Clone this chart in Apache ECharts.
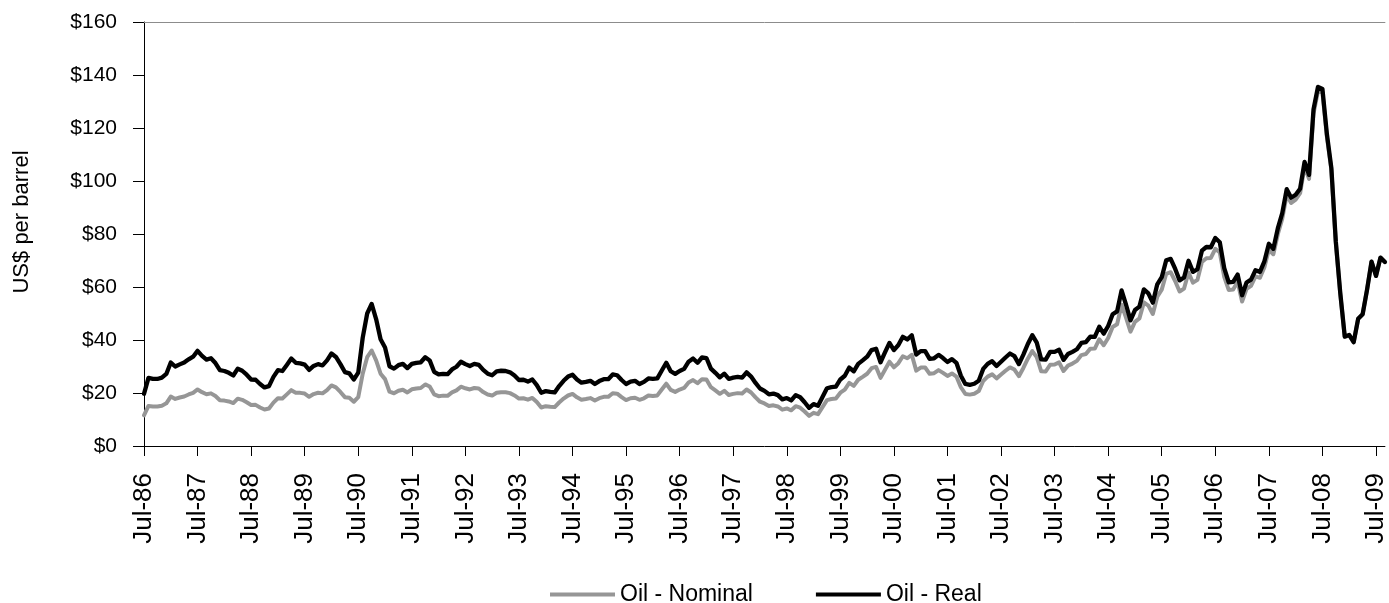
<!DOCTYPE html>
<html>
<head>
<meta charset="utf-8">
<title>Oil price, nominal and real</title>
<script src="https://cdn.jsdelivr.net/npm/echarts@6/dist/echarts.min.js"></script>
<style>
  html, body { margin: 0; padding: 0; background: #ffffff; }
  #chart { width: 1389px; height: 603px; }
</style>
</head>
<body>
<div id="chart"></div>
<script>
// Monthly oil price in US$ per barrel, July 1986 to September 2009.
const MONTH_NAMES = ['Jan', 'Feb', 'Mar', 'Apr', 'May', 'Jun', 'Jul', 'Aug', 'Sep', 'Oct', 'Nov', 'Dec'];
const FIRST_YEAR = 1986;
const FIRST_MONTH = 6;   // July
const MONTH_COUNT = 279; // Jul-86 .. Sep-09

const nominal = [
  11.58, 15.10, 14.87, 14.90, 15.22, 16.11,
  18.65, 17.75, 18.30, 18.68, 19.44, 20.07, 21.34, 20.31, 19.53, 19.86, 18.85, 17.28,
  17.13, 16.80, 16.20, 17.86, 17.42, 16.53, 15.50, 15.52, 14.54, 13.77, 14.14, 16.38,
  18.02, 17.94, 19.48, 21.07, 20.12, 20.05, 19.78, 18.58, 19.59, 20.10, 19.86, 21.10,
  22.86, 22.11, 20.39, 18.43, 18.20, 16.70, 18.45, 27.31, 33.51, 36.04, 32.33, 27.28,
  25.23, 20.48, 19.90, 20.83, 21.23, 20.19, 21.40, 21.69, 21.89, 23.23, 22.46, 19.50,
  18.79, 19.01, 18.92, 20.23, 20.98, 22.39, 21.78, 21.34, 21.88, 21.69, 20.34, 19.41,
  19.03, 20.09, 20.32, 20.25, 19.95, 19.09, 17.89, 18.01, 17.50, 18.15, 16.61, 14.52,
  15.03, 14.78, 14.68, 16.42, 17.89, 19.06, 19.66, 18.38, 17.45, 17.72, 18.07, 17.16,
  18.04, 18.57, 18.54, 19.90, 19.74, 18.45, 17.33, 18.02, 18.23, 17.43, 17.99, 19.03,
  18.85, 19.09, 21.33, 23.50, 21.17, 20.42, 21.30, 21.90, 23.97, 24.88, 23.71, 25.23,
  25.13, 22.18, 20.97, 19.70, 20.82, 19.26, 19.66, 19.95, 19.80, 21.33, 20.19, 18.33,
  16.72, 16.06, 15.12, 15.35, 14.91, 13.72, 14.17, 13.47, 15.03, 14.46, 13.00, 11.35,
  12.52, 12.01, 14.68, 17.31, 17.72, 17.92, 20.10, 21.28, 23.80, 22.69, 25.00, 26.10,
  27.26, 29.37, 29.84, 25.72, 28.79, 31.82, 29.70, 31.26, 33.88, 33.11, 34.42, 28.44,
  29.59, 29.61, 27.25, 27.49, 28.63, 27.60, 26.43, 27.37, 26.20, 22.17, 19.64, 19.39,
  19.72, 20.72, 24.53, 26.18, 27.04, 25.52, 26.97, 28.39, 29.66, 28.84, 26.35, 29.46,
  32.95, 35.83, 33.51, 28.17, 28.11, 30.66, 30.76, 31.57, 28.31, 30.34, 31.11, 32.13,
  34.31, 34.69, 36.74, 36.75, 40.28, 38.03, 40.78, 44.90, 45.94, 53.28, 48.47, 43.15,
  46.84, 48.15, 54.19, 52.98, 49.83, 56.35, 59.00, 64.99, 65.59, 62.26, 58.32, 59.41,
  65.49, 61.63, 62.69, 69.44, 70.84, 70.95, 74.41, 73.04, 63.80, 58.89, 59.08, 61.96,
  54.51, 59.28, 60.44, 63.98, 63.46, 67.49, 74.12, 72.36, 79.92, 85.80, 94.77, 91.69,
  92.97, 95.39, 105.45, 100.80, 125.40, 133.88, 133.37, 116.67, 104.11, 76.61, 57.31, 41.12,
  41.71, 39.09, 47.94, 49.65, 59.03, 69.64, 64.15, 71.05, 69.41
];

const real = [
  19.7, 25.7, 25.3, 25.3, 25.8, 27.2,
  31.5, 30.0, 30.8, 31.5, 32.7, 33.7, 35.9, 34.0, 32.6, 33.1, 31.3, 28.6,
  28.3, 27.6, 26.6, 29.2, 28.4, 26.9, 25.1, 25.0, 23.4, 22.1, 22.6, 26.1,
  28.6, 28.3, 30.6, 33.0, 31.4, 31.2, 30.7, 28.7, 30.2, 30.9, 30.4, 32.3,
  34.9, 33.6, 30.9, 27.9, 27.4, 25.1, 27.7, 40.9, 50.0, 53.6, 47.9, 40.3,
  37.2, 30.1, 29.2, 30.5, 31.0, 29.4, 31.0, 31.4, 31.6, 33.5, 32.3, 28.0,
  27.0, 27.2, 27.1, 28.9, 29.9, 31.8, 30.9, 30.2, 31.0, 30.6, 28.7, 27.3,
  26.7, 28.2, 28.4, 28.3, 27.8, 26.6, 24.9, 25.0, 24.3, 25.1, 23.0, 20.1,
  20.7, 20.4, 20.2, 22.6, 24.6, 26.2, 26.9, 25.1, 23.9, 24.2, 24.6, 23.4,
  24.5, 25.2, 25.2, 27.0, 26.7, 24.9, 23.4, 24.3, 24.6, 23.4, 24.2, 25.5,
  25.3, 25.5, 28.5, 31.4, 28.2, 27.2, 28.3, 29.1, 31.8, 33.0, 31.4, 33.4,
  33.2, 29.2, 27.6, 25.9, 27.3, 25.3, 25.8, 26.1, 25.8, 27.8, 26.2, 23.8,
  21.7, 20.8, 19.5, 19.8, 19.2, 17.6, 18.1, 17.2, 19.2, 18.4, 16.5, 14.4,
  15.8, 15.2, 18.5, 21.8, 22.2, 22.4, 25.1, 26.5, 29.6, 28.2, 31.0, 32.3,
  33.7, 36.2, 36.7, 31.6, 35.3, 38.9, 36.2, 38.1, 41.2, 40.2, 41.8, 34.5,
  35.8, 35.8, 32.9, 33.1, 34.4, 33.2, 31.7, 32.8, 31.4, 26.5, 23.4, 23.1,
  23.5, 24.6, 29.1, 31.0, 32.0, 30.2, 31.8, 33.4, 34.9, 33.9, 30.9, 34.5,
  38.5, 41.8, 39.0, 32.7, 32.6, 35.5, 35.5, 36.3, 32.5, 34.7, 35.5, 36.5,
  38.9, 39.2, 41.3, 41.2, 45.0, 42.4, 45.3, 49.7, 50.8, 58.7, 53.3, 47.4,
  51.3, 52.6, 59.1, 57.6, 54.1, 61.0, 63.7, 70.1, 70.6, 66.9, 62.5, 63.6,
  69.9, 65.7, 66.7, 73.7, 75.1, 75.0, 78.5, 76.9, 67.1, 61.8, 61.9, 64.7,
  56.9, 61.7, 62.8, 66.3, 65.7, 69.7, 76.3, 74.4, 82.1, 87.9, 96.9, 93.7,
  94.8, 97.1, 107.2, 102.3, 127.0, 135.5, 134.7, 117.7, 104.9, 77.1, 57.7, 41.3,
  41.9, 39.2, 48.0, 49.7, 59.0, 69.6, 64.2, 71.1, 69.4
];

// Month labels such as "Jul-86"; one axis label is shown every 12 months (each July).
const categories = [];
for (let k = 0; k < MONTH_COUNT; k++) {
  const m = (FIRST_MONTH + k) % 12;
  const y = FIRST_YEAR + Math.floor((FIRST_MONTH + k) / 12);
  categories.push(MONTH_NAMES[m] + '-' + String(y % 100).padStart(2, '0'));
}

const yTicks = { min: 0, max: 160, step: 20 };
const FONT = '"Liberation Sans", Arial, sans-serif';

const chart = echarts.init(document.getElementById('chart'), null, { renderer: 'canvas' });

chart.setOption({
  animation: false,
  backgroundColor: '#ffffff',
  grid: { left: 144, right: -2, top: 22, bottom: 157, containLabel: false },
  legend: {
    left: 545,
    top: 578,
    icon: 'rect',
    itemWidth: 65,
    itemHeight: 4,
    itemGap: 63,
    textStyle: { fontFamily: FONT, fontSize: 23, color: '#000000' },
    data: ['Oil - Nominal', 'Oil - Real']
  },
  xAxis: [
    {
      type: 'category',
      data: categories,
      boundaryGap: false,
      axisLine: { show: true, onZero: false, lineStyle: { color: '#000000', width: 1 } },
      axisTick: { show: true, interval: 11, length: 10, lineStyle: { color: '#000000', width: 1 } },
      axisLabel: {
        interval: 11,
        rotate: 90,
        margin: 27,
        fontFamily: FONT,
        fontSize: 26,
        color: '#000000',
        hideOverlap: false
      },
      splitLine: { show: false }
    },
    {
      // plain top edge of the plot area
      type: 'category',
      data: categories,
      boundaryGap: false,
      position: 'top',
      axisLine: { show: true, onZero: false, lineStyle: { color: '#8c8c8c', width: 1 } },
      axisTick: { show: false },
      axisLabel: { show: false },
      splitLine: { show: false }
    }
  ],
  yAxis: {
    type: 'value',
    min: yTicks.min,
    max: yTicks.max,
    interval: yTicks.step,
    name: 'US$ per barrel',
    nameLocation: 'middle',
    nameRotate: 90,
    nameGap: 111,
    nameTextStyle: { fontFamily: FONT, fontSize: 22, color: '#000000', padding: [0, 0, 0, 24] },
    axisLine: { show: true, lineStyle: { color: '#000000', width: 1 } },
    axisTick: { show: true, length: 11, lineStyle: { color: '#000000', width: 1 } },
    axisLabel: {
      margin: 27,
      fontFamily: FONT,
      fontSize: 21,
      color: '#000000',
      formatter: v => '$' + v
    },
    splitLine: { show: false }
  },
  series: [
    {
      name: 'Oil - Nominal',
      type: 'line',
      data: nominal,
      symbol: 'none',
      lineStyle: { color: '#969696', width: 4, join: 'round', cap: 'round' },
      itemStyle: { color: '#969696' },
      z: 2
    },
    {
      name: 'Oil - Real',
      type: 'line',
      data: real,
      symbol: 'none',
      lineStyle: { color: '#000000', width: 4.3, join: 'round', cap: 'round' },
      itemStyle: { color: '#000000' },
      z: 3
    }
  ]
});
</script>
</body>
</html>
